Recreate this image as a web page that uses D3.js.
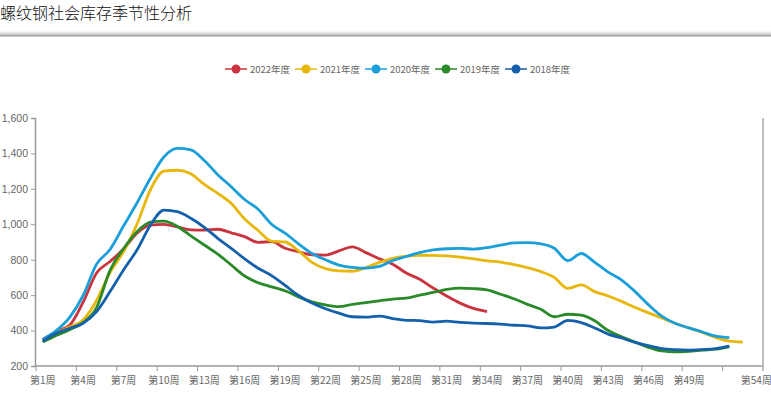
<!DOCTYPE html>
<html>
<head>
<meta charset="utf-8">
<script src="https://cdn.jsdelivr.net/npm/d3@7"></script>
<style>
  body { margin: 0; background: #fff; }
  svg { display: block; font-family: "Noto Sans CJK SC", "Noto Sans", sans-serif; }
</style>
</head>
<body>
<div id="chart"></div>
<script>
const title = '螺纹钢社会库存季节性分析'
const weeks = Array.from({ length: 54 }, (_, i) => '第' + (i + 1) + '周')
const yTicks = [200, 400, 600, 800, 1000, 1200, 1400, 1600]

const seriesNames = ['2022年度', '2021年度', '2020年度', '2019年度', '2018年度']
const seriesColors = ['#c9343f', '#e8b70c', '#1a9fd9', '#2a8a2a', '#1560aa']

const y2022 = [350, 395, 430, 560, 725, 790, 860, 950, 995, 1000, 985, 968, 967, 972, 952, 930, 898, 902, 865, 845,
  828, 826, 850, 873, 840, 805, 775, 725, 690, 640, 595, 555, 525, 507]
const y2021 = [345, 385, 420, 460, 570, 728, 845, 1000, 1195, 1300, 1305, 1285, 1225, 1175, 1118, 1030, 965, 905, 900, 850,
  785, 750, 737, 735, 755, 785, 808, 820, 825, 825, 822, 815, 805, 793, 787, 772, 755, 733, 700, 638,
  658, 620, 595, 565, 530, 500, 470, 440, 415, 390, 360, 340, 335]
const y2020 = [350, 400, 475, 598, 775, 858, 990, 1120, 1260, 1380, 1428, 1420, 1360, 1280, 1212, 1140, 1085, 1000, 950, 890,
  835, 800, 770, 757, 752, 762, 795, 818, 840, 855, 862, 864, 860, 868, 882, 895, 897, 890, 865, 795,
  835, 785, 730, 685, 620, 545, 480, 440, 415, 392, 368, 360]
const y2019 = [335, 372, 405, 445, 530, 740, 862, 958, 1012, 1018, 988, 935, 883, 832, 770, 708, 670, 647, 625, 590,
  562, 545, 535, 548, 558, 568, 578, 583, 600, 615, 632, 640, 637, 630, 605, 580, 548, 520, 478, 492,
  487, 455, 400, 365, 335, 305, 285, 280, 283, 290, 295, 310]
const y2018 = [340, 385, 413, 441, 507, 620, 742, 855, 995, 1080, 1071, 1034, 983, 921, 864, 805, 752, 710, 655, 598,
  555, 523, 498, 478, 476, 482, 468, 458, 456, 448, 453, 446, 442, 440, 436, 430, 427, 415, 420, 458,
  445, 415, 380, 358, 333, 315, 298, 292, 290, 293, 298, 312]
const seriesValues = [y2022, y2021, y2020, y2019, y2018]

const W = 771
const H = 395
const plot = { left: 36, right: 763, top: 118, bottom: 366 }

const svg = d3.select('#chart').append('svg')
  .attr('width', W)
  .attr('height', H)

// title + header rule
svg.append('text')
  .attr('x', 0)
  .attr('y', 19)
  .attr('font-size', 16)
  .attr('font-weight', 300)
  .attr('fill', '#111')
  .text(title)

const grad = svg.append('defs').append('linearGradient')
  .attr('id', 'hdr').attr('x1', 0).attr('y1', 0).attr('x2', 0).attr('y2', 1)
grad.append('stop').attr('offset', '0%').attr('stop-color', '#fff')
grad.append('stop').attr('offset', '100%').attr('stop-color', '#b0b0b0')
svg.append('rect').attr('x', 0).attr('y', 31).attr('width', W).attr('height', 5).attr('fill', 'url(#hdr)')
svg.append('line').attr('x1', 0).attr('x2', W).attr('y1', 36).attr('y2', 36).attr('stroke', '#999')

const x = d3.scaleBand().domain(weeks).range([plot.left, plot.right]).padding(0)
const cx = d => x(d) + x.bandwidth() / 2
const y = d3.scaleLinear().domain([200, 1600]).range([plot.bottom, plot.top])

// y axis
const yAxis = svg.append('g')
  .attr('transform', 'translate(' + (plot.left - 1) + ',0)')
  .call(d3.axisLeft(y).tickValues(yTicks).tickFormat(d3.format(',')).tickSize(4).tickPadding(3))
yAxis.select('.domain').attr('stroke', '#999').attr('stroke-width', 1.5)
yAxis.selectAll('.tick line').attr('stroke', '#999')
yAxis.selectAll('.tick text').attr('fill', '#666').attr('font-size', 10.5)
  .attr('font-family', '"Liberation Sans", sans-serif')

// x axis
const xg = svg.append('g')
svg.append('line')
  .attr('x1', plot.left - 1).attr('x2', plot.right)
  .attr('y1', plot.bottom).attr('y2', plot.bottom)
  .attr('stroke', '#999').attr('stroke-width', 1.5)
svg.append('line')
  .attr('x1', plot.right).attr('x2', plot.right)
  .attr('y1', plot.top).attr('y2', plot.bottom + 5)
  .attr('stroke', '#aaa').attr('stroke-width', 1.5)

const tickWeeks = weeks.filter((d, i) => i % 3 === 0)
xg.selectAll('line.tk')
  .data(tickWeeks)
  .enter().append('line')
    .attr('class', 'tk')
    .attr('x1', d => x(d)).attr('x2', d => x(d))
    .attr('y1', plot.bottom).attr('y2', plot.bottom + 5)
    .attr('stroke', '#999')

const labelWeeks = weeks.filter((d, i) => i % 3 === 0 && i < 51).concat([weeks[53]])
xg.selectAll('text')
  .data(labelWeeks)
  .enter().append('text')
    .attr('x', d => cx(d))
    .attr('y', plot.bottom + 18)
    .attr('text-anchor', 'middle')
    .attr('font-size', 10)
    .attr('fill', '#666')
    .text(d => d)

// lines
const line = d3.line()
  .x((d, i) => cx(weeks[i]))
  .y(d => y(d))
  .curve(d3.curveMonotoneX)

seriesValues.forEach((vals, k) => {
  svg.append('path')
    .datum(vals)
    .attr('fill', 'none')
    .attr('stroke', seriesColors[k])
    .attr('stroke-width', 2.8)
    .attr('stroke-linejoin', 'round')
    .attr('d', line)
})

// legend, one item every 70px
const legend = svg.append('g').attr('transform', 'translate(225,69)')
const items = legend.selectAll('g')
  .data(seriesNames)
  .enter().append('g')
    .attr('transform', (d, i) => 'translate(' + i * 70 + ',0)')
items.append('line')
  .attr('x1', 0).attr('x2', 22).attr('y1', 0).attr('y2', 0)
  .attr('stroke', (d, i) => seriesColors[i]).attr('stroke-width', 1.5)
items.append('circle')
  .attr('cx', 11).attr('cy', 0).attr('r', 4.5)
  .attr('fill', (d, i) => seriesColors[i])
items.append('text')
  .attr('x', 25).attr('y', 3.5)
  .attr('font-size', 9.5)
  .attr('fill', '#666')
  .text(d => d)
</script>
</body>
</html>
